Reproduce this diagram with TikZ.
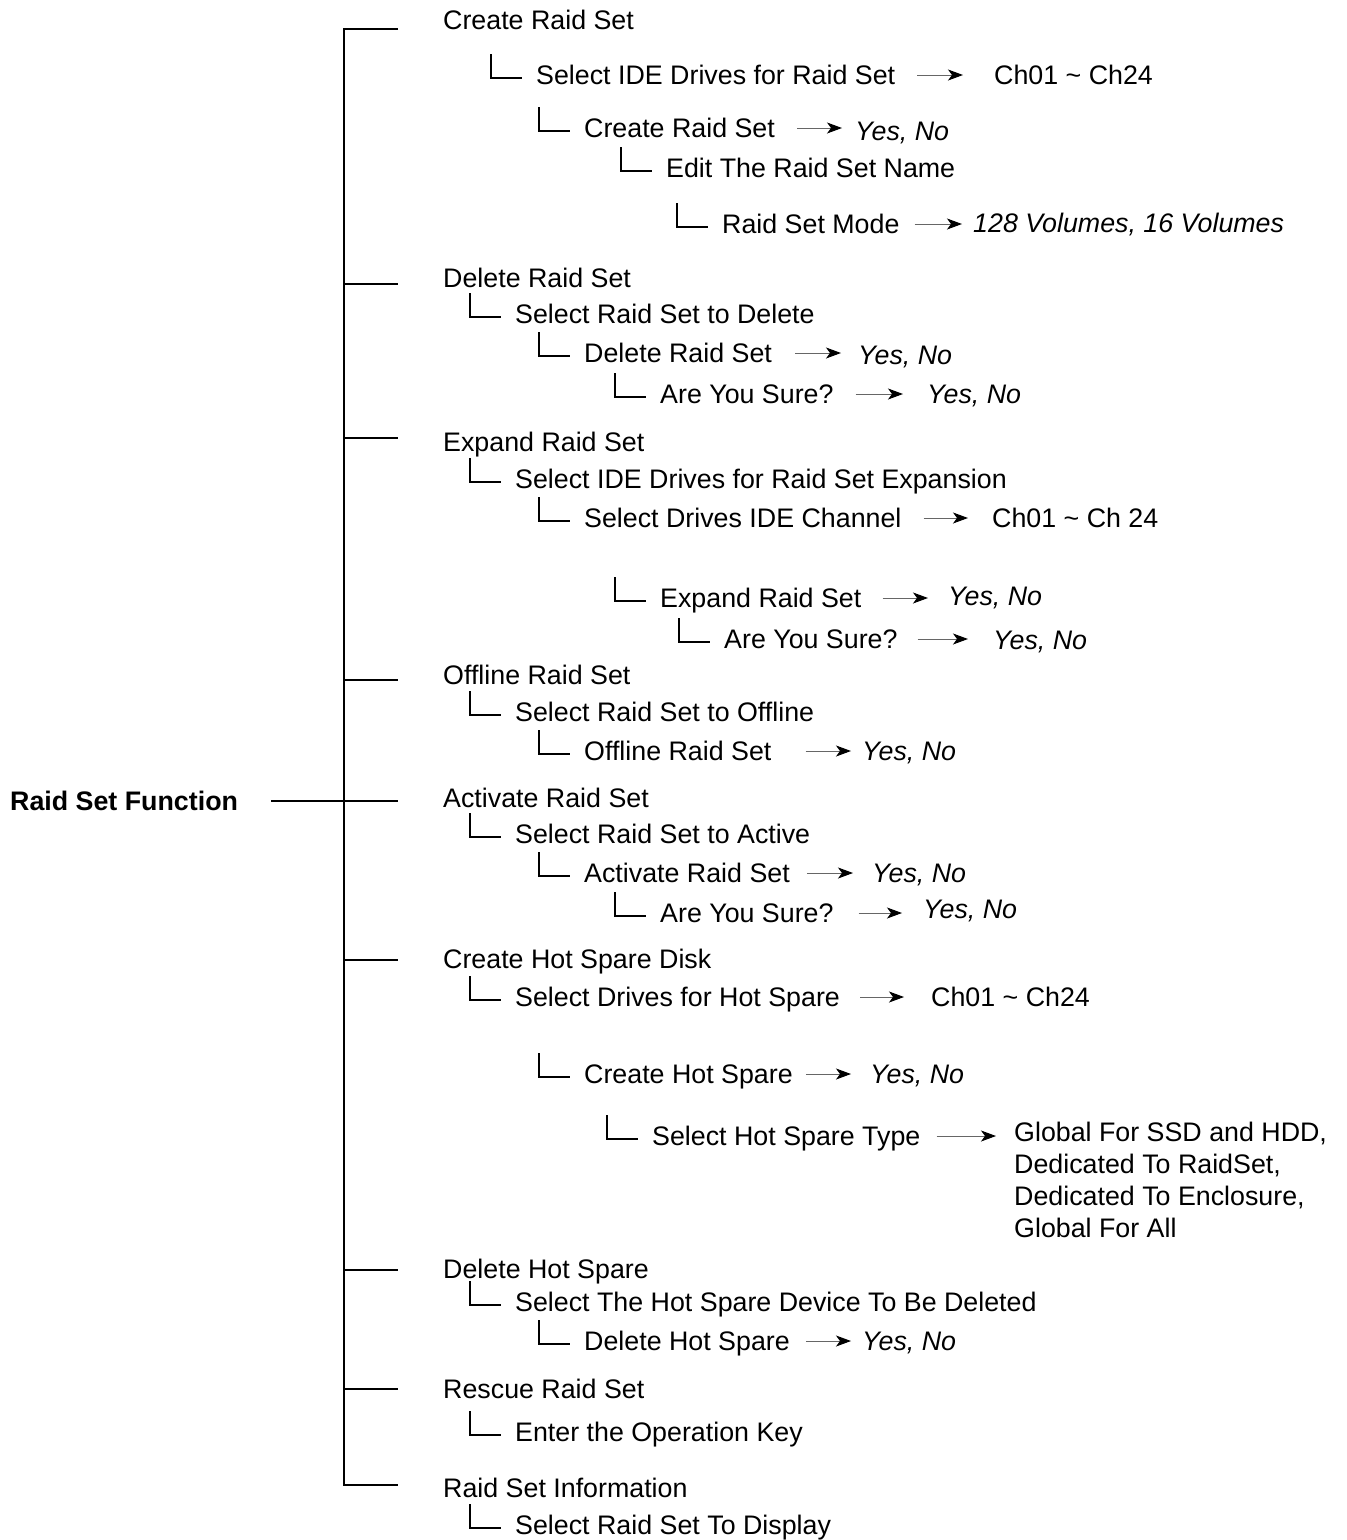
\documentclass[tikz,border=0pt]{standalone}
\usepackage{fontspec}
\setmainfont{Liberation Sans}
\usetikzlibrary{arrows.meta}

\tikzset{
  item/.style={anchor=base west, inner sep=0pt, text height=20pt, text depth=2pt,
    font=\fontsize{26.8}{32}\selectfont},
  val/.style={item, font=\fontsize{26.8}{32}\selectfont\itshape},
  tree/.style={line width=2.2pt},
  elbow/.style={line width=2.2pt},
  arr/.style={draw=black!60, line width=1pt,
    -{Stealth[length=15pt,width=11pt,inset=4pt,color=black]}},
}

\begin{document}
\begin{tikzpicture}[x=1pt,y=-1pt]
\useasboundingbox (0,0) rectangle (1347,1540);

% root and main items
\node[item, font=\fontsize{26.8}{32}\selectfont\bfseries] (root) at (10,810) {Raid Set Function};
\node[item] (m1) at (443,29) {Create Raid Set};
\node[item] (m2) at (443,287) {Delete Raid Set};
\node[item] (m3) at (443,451) {Expand Raid Set};
\node[item] (m4) at (443,684) {Offline Raid Set};
\node[item] (m5) at (443,807) {Activate Raid Set};
\node[item] (m6) at (443,968) {Create Hot Spare Disk};
\node[item] (m7) at (443,1278) {Delete Hot Spare};
\node[item] (m8) at (443,1398) {Rescue Raid Set};
\node[item] (m9) at (443,1497) {Raid Set Information};

% sub items
\node[item] (a1) at (536,84) {Select IDE Drives for Raid Set};
\node[item] (a2) at (584,137) {Create Raid Set};
\node[item] (a3) at (666,177) {Edit The Raid Set Name};
\node[item] (a4) at (722,233) {Raid Set Mode};
\node[item] (b1) at (515,323) {Select Raid Set to Delete};
\node[item] (b2) at (584,362) {Delete Raid Set};
\node[item] (b3) at (660,403) {Are You Sure?};
\node[item] (c1) at (515,488) {Select IDE Drives for Raid Set Expansion};
\node[item] (c2) at (584,527) {Select Drives IDE Channel};
\node[item] (c3) at (660,607) {Expand Raid Set};
\node[item] (c4) at (724,648) {Are You Sure?};
\node[item] (d1) at (515,721) {Select Raid Set to Offline};
\node[item] (d2) at (584,760) {Offline Raid Set};
\node[item] (e1) at (515,843) {Select Raid Set to Active};
\node[item] (e2) at (584,882) {Activate Raid Set};
\node[item] (e3) at (660,922) {Are You Sure?};
\node[item] (f1) at (515,1006) {Select Drives for Hot Spare};
\node[item] (f2) at (584,1083) {Create Hot Spare};
\node[item] (f3) at (652,1145) {Select Hot Spare Type};
\node[item] (g1) at (515,1311) {Select The Hot Spare Device To Be Deleted};
\node[item] (g2) at (584,1350) {Delete Hot Spare};
\node[item] (h1) at (515,1441) {Enter the Operation Key};
\node[item] (i1) at (515,1534) {Select Raid Set To Display};

% values
\node[item] (va1) at (994,84) {Ch01 \textasciitilde{} Ch24};
\node[val] (va2) at (855,140) {Yes, No};
\node[val] (va4) at (973,232) {128 Volumes, 16 Volumes};
\node[val] (vb2) at (858,364) {Yes, No};
\node[val] (vb3) at (927,403) {Yes, No};
\node[item] (vc2) at (992,527) {Ch01 \textasciitilde{} Ch 24};
\node[val] (vc3) at (948,605) {Yes, No};
\node[val] (vc4) at (993,649) {Yes, No};
\node[val] (vd2) at (862,760) {Yes, No};
\node[val] (ve2) at (872,882) {Yes, No};
\node[val] (ve3) at (923,918) {Yes, No};
\node[item] (vf1) at (931,1006) {Ch01 \textasciitilde{} Ch24};
\node[val] (vf2) at (870,1083) {Yes, No};
% base of a multi-line node is its last line
\node[anchor=base west, inner sep=0pt, align=left, font=\fontsize{26.8}{32}\selectfont]
  (vf3) at (1014,1237) {Global For SSD and HDD,\\Dedicated To RaidSet,\\Dedicated To Enclosure,\\Global For All};
\node[val] (vg2) at (862,1350) {Yes, No};

% trunk and ticks
\draw[tree] (398,29) -- (344,29) -- (344,1485) -- (398,1485);
\foreach \y in {284,438,680,960,1270,1389}
  \draw[tree] (344,\y) -- (398,\y);
\draw[tree, shorten <=33pt] (root.east) -- (root.east -| 398,0);

% elbows
\foreach \n in {a1,a2,a3,a4,b1,b2,b3,c1,c2,c3,c4,d1,d2,e1,e2,e3,f1,f2,f3,g1,g2,h1,i1}
  \draw[elbow] ([shift={(-45,-30)}]\n.base west) |- ([shift={(-14,-6)}]\n.base west);

% arrows
\foreach \a/\v/\s/\e in {a1/va1/22/31, a2/va2/22/13, a4/va4/15/11, b2/vb2/23/17,
    b3/vb3/22/24, c2/vc2/22/24, c3/vc3/21/20, c4/vc4/20/25, d2/vd2/34/11,
    e2/ve2/17/19, e3/ve3/25/21, f1/vf1/20/27, f2/vf2/13/19, f3/vf3/16/18, g2/vg2/16/11}
  \draw[arr, shorten <=\s pt, shorten >=\e pt] (\a.east) -- (\a.east -| \v.west);
\end{tikzpicture}
\end{document}
